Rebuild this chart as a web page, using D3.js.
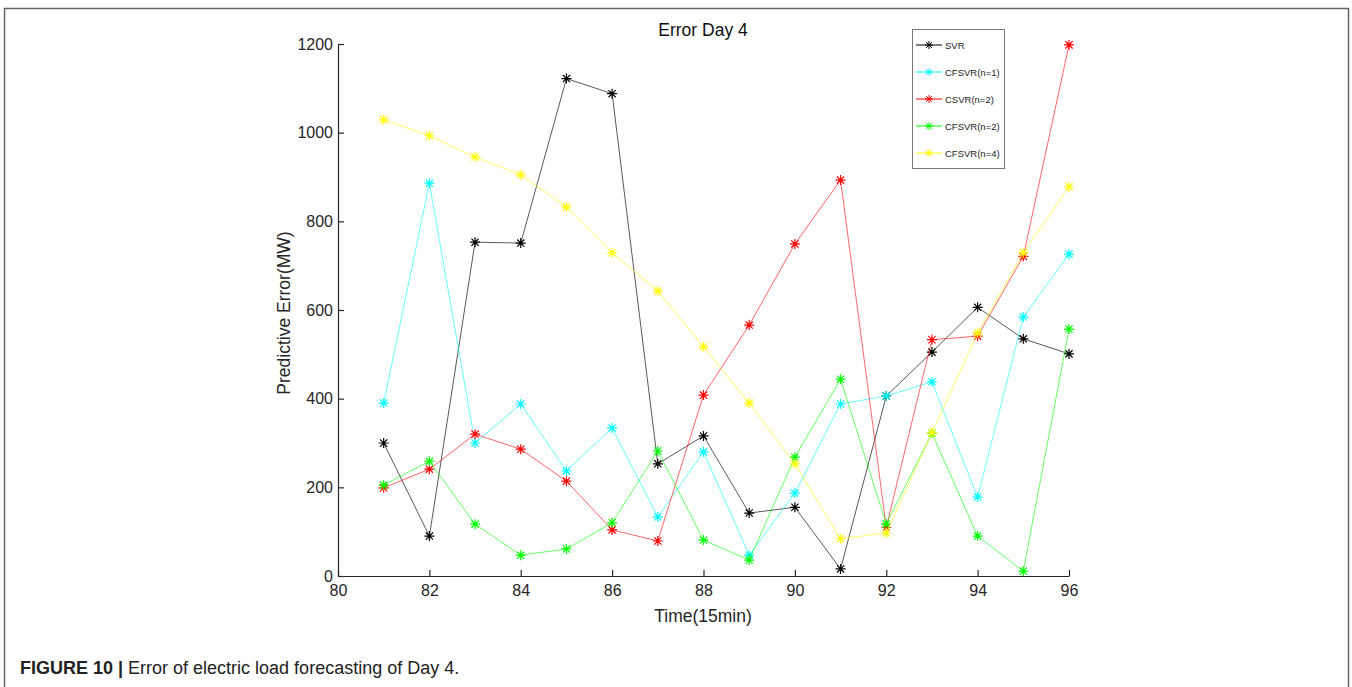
<!DOCTYPE html>
<html lang="en">
<head>
<meta charset="UTF-8">
<title>Error Day 4</title>
<script src="https://cdn.jsdelivr.net/npm/d3@7"></script>
<style>
  body { margin: 0; background: #fff; }
  text { font-family: "Liberation Sans", Arial, sans-serif; }
</style>
</head>
<body>
<script>
    var width = 1352;
    var height = 687;

    // data
    var times = [81, 82, 83, 84, 85, 86, 87, 88, 89, 90, 91, 92, 93, 94, 95, 96];
    var svr = [300, 90, 753, 751, 1122, 1088, 253, 316, 142, 155, 16, 406, 505, 606, 535, 501];
    var cfsvr1 = [390, 886, 300, 388, 237, 334, 133, 280, 47, 187, 388, 406, 438, 178, 584, 726];
    var csvr2 = [199, 241, 320, 286, 214, 104, 79, 408, 566, 749, 893, 110, 533, 541, 721, 1198];
    var cfsvr2 = [205, 259, 117, 47, 61, 120, 282, 81, 36, 268, 444, 117, 322, 90, 11, 557];
    var cfsvr4 = [1029, 993, 945, 905, 832, 729, 643, 517, 390, 253, 84, 97, 323, 548, 729, 878];
    var xTicks = [80, 82, 84, 86, 88, 90, 92, 94, 96];
    var yTicks = [0, 200, 400, 600, 800, 1000, 1200];

    var series = [
        {name: "SVR", values: svr, color: "#000000"},
        {name: "CFSVR(n=1)", values: cfsvr1, color: "#00ffff"},
        {name: "CSVR(n=2)", values: csvr2, color: "#ff0000"},
        {name: "CFSVR(n=2)", values: cfsvr2, color: "#00ff00"},
        {name: "CFSVR(n=4)", values: cfsvr4, color: "#ffff00"}
    ];

    var svg = d3.select("body").append("svg")
        .attr("width", width)
        .attr("height", height);

    // figure frame
    svg.append("path")
        .attr("d", "M4.5," + height + "V8.5H1348.5V" + height)
        .attr("fill", "none")
        .attr("stroke", "#666")
        .attr("stroke-width", 1.5);

    var x = d3.scaleLinear().domain([80, 96]).range([338, 1069]);
    var y = d3.scaleLinear().domain([0, 1200]).range([576, 44]);

    // axes (ticks point inward, like matlab)
    var xAxis = svg.append("g")
        .attr("transform", "translate(0," + y(0) + ")")
        .call(d3.axisBottom(x).tickValues(xTicks).tickFormat(d3.format("d"))
            .tickSizeInner(-6).tickSizeOuter(0).tickPadding(9));
    var yAxis = svg.append("g")
        .attr("transform", "translate(" + x(80) + ",0)")
        .call(d3.axisLeft(y).tickValues(yTicks).tickFormat(d3.format("d"))
            .tickSizeInner(-6).tickSizeOuter(0).tickPadding(5));
    [xAxis, yAxis].forEach(function (g) {
        g.selectAll("path, line").attr("stroke", "#262626").attr("stroke-width", 1.2);
        g.selectAll("text").attr("font-size", 16).attr("fill", "#262626")
            .style("font-family", "'Liberation Sans', Arial, sans-serif");
    });

    svg.append("text")
        .attr("x", 703).attr("y", 36)
        .attr("text-anchor", "middle")
        .attr("font-size", 17.5)
        .attr("fill", "#111")
        .text("Error Day 4");

    svg.append("text")
        .attr("x", 703).attr("y", 622)
        .attr("text-anchor", "middle")
        .attr("font-size", 17.5)
        .attr("fill", "#262626")
        .text("Time(15min)");

    svg.append("text")
        .attr("transform", "translate(290,313) rotate(-90)")
        .attr("text-anchor", "middle")
        .attr("font-size", 17.5)
        .attr("fill", "#262626")
        .text("Predictive Error(MW)");

    // asterisk marker
    function star(s) {
        var d = s * 0.72;
        return "M" + (-s) + ",0H" + s + "M0," + (-s) + "V" + s +
            "M" + (-d) + "," + (-d) + "L" + d + "," + d +
            "M" + (-d) + "," + d + "L" + d + "," + (-d);
    }

    var line = d3.line()
        .x(function (d, i) { return x(times[i]); })
        .y(function (d) { return y(d); });

    series.forEach(function (s) {
        var g = svg.append("g");
        g.append("path")
            .attr("d", line(s.values))
            .attr("fill", "none")
            .attr("stroke", s.color)
            .attr("stroke-opacity", s.color == "#000000" ? 0.65 : 0.6)
            .attr("stroke-width", 1);
        g.selectAll("path.m")
            .data(s.values)
            .enter()
            .append("path")
            .attr("class", "m")
            .attr("transform", function (d, i) { return "translate(" + x(times[i]) + "," + y(d) + ")"; })
            .attr("d", star(5))
            .attr("stroke", s.color)
            .attr("stroke-width", 1.2)
            .attr("fill", "none");
    });

    // legend
    var leg = svg.append("g");
    leg.append("rect")
        .attr("x", 912.5).attr("y", 29.5)
        .attr("width", 92).attr("height", 139)
        .attr("fill", "#fff")
        .attr("stroke", "#777")
        .attr("stroke-width", 1);
    series.forEach(function (s, i) {
        var ly = 45 + i * 27;
        leg.append("line")
            .attr("x1", 916).attr("x2", 942)
            .attr("y1", ly).attr("y2", ly)
            .attr("stroke", s.color).attr("stroke-width", 1);
        leg.append("path")
            .attr("transform", "translate(929," + ly + ")")
            .attr("d", star(4))
            .attr("stroke", s.color).attr("stroke-width", 1)
            .attr("fill", "none");
        leg.append("text")
            .attr("x", 945).attr("y", ly + 3.5)
            .attr("font-size", 9.5)
            .attr("fill", "#222")
            .text(s.name);
    });

    // caption
    var cap = svg.append("text")
        .attr("x", 20).attr("y", 674)
        .attr("font-size", 18)
        .attr("fill", "#222");
    cap.append("tspan").attr("font-weight", "bold").text("FIGURE 10 | ");
    cap.append("tspan").text("Error of electric load forecasting of Day 4.");
</script>
</body>
</html>
